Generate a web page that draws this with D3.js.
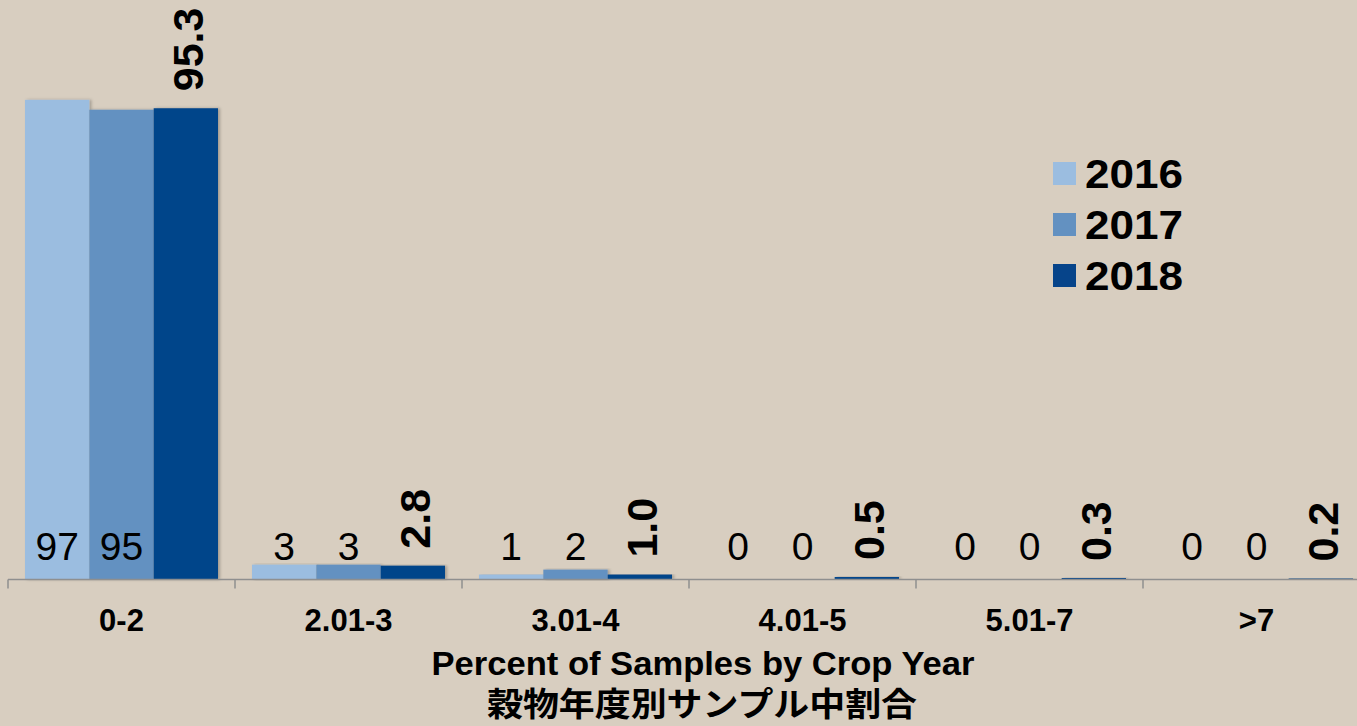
<!DOCTYPE html>
<html>
<head>
<meta charset="utf-8">
<script src="https://cdn.jsdelivr.net/npm/d3@7"></script>
<style>
  html, body { margin: 0; padding: 0; background: #d8cec0; }
  svg { display: block; }
</style>
</head>
<body>
<svg id="chart" width="1357" height="726"></svg>
<script>
// Moisture ranges (percent) and share of samples per crop year
const categories = ["0-2", "2.01-3", "3.01-4", "4.01-5", "5.01-7", ">7"];
const years = ["2016", "2017", "2018"];
const values2016 = [97, 3, 1, 0, 0, 0];
const values2017 = [95, 3, 2, 0, 0, 0];
const values2018 = [95.3, 2.8, 1.0, 0.5, 0.3, 0.2];
const seriesValues = [values2016, values2017, values2018];
const colors = ["#9bbde0", "#6391c1", "#06448a"];
const axisTitle = "Percent of Samples by Crop Year";
const axisTitleJa = "穀物年度別サンプル中割合";

const W = 1357, H = 726;
const svg = d3.select("#chart");
svg.append("rect").attr("width", W).attr("height", H).attr("fill", "#d8cec0");

const defs = svg.append("defs");
const sh = defs.append("filter").attr("id", "shadow")
  .attr("x", "-10%").attr("y", "-10%").attr("width", "130%").attr("height", "120%");
sh.append("feDropShadow").attr("dx", 2).attr("dy", 0).attr("stdDeviation", 1.5)
  .attr("flood-color", "#000").attr("flood-opacity", 0.25);

const baseY = 579.5;
const x0 = d3.scaleBand().domain(categories).range([8, 8 + 227 * 6]).padding(0);
const x1 = d3.scaleBand().domain(years).range([17, 210]).padding(0);
const y = d3.scaleLinear().domain([0, 100]).range([baseY, 85]);

const data = categories.map((c, i) => ({
  cat: c,
  vals: years.map((yr, j) => ({ year: yr, idx: j, v: seriesValues[j][i] }))
}));

const groups = svg.append("g").selectAll("g").data(data).join("g")
  .attr("transform", d => `translate(${x0(d.cat)},0)`);

// bars
groups.selectAll("rect").data(d => d.vals).join("rect")
  .attr("x", d => x1(d.year))
  .attr("width", x1.bandwidth())
  .attr("y", d => y(d.v))
  .attr("height", d => baseY - y(d.v))
  .attr("fill", d => colors[d.idx])
  .attr("filter", "url(#shadow)");

// axis line and category ticks
const axis = d3.axisBottom(x0).tickSize(0).tickFormat("");
const axisG = svg.append("g").attr("transform", `translate(0,${baseY})`).call(axis);
axisG.select(".domain").attr("stroke", "#8f8f8f").attr("stroke-width", 1.5)
  .attr("d", `M8,0H${W}`);
const tickPos = categories.map(c => x0(c));
svg.append("g").selectAll("line").data(tickPos).join("line")
  .attr("x1", d => d).attr("x2", d => d)
  .attr("y1", baseY).attr("y2", baseY + 9)
  .attr("stroke", "#8f8f8f").attr("stroke-width", 1.5);

// category labels
svg.append("g").selectAll("text").data(categories).join("text")
  .attr("x", d => x0(d) + x0.bandwidth() / 2)
  .attr("y", 631)
  .attr("text-anchor", "middle")
  .attr("font-family", "Liberation Sans, Arial, sans-serif")
  .attr("font-weight", "bold")
  .attr("font-size", 31)
  .attr("fill", "#000")
  .text(d => d);

// value labels: 2016 & 2017 upright, 2018 rotated and bold
groups.selectAll("text.v").data(d => d.vals.filter(v => v.idx < 2)).join("text")
  .attr("class", "v")
  .attr("x", d => x1(d.year) + x1.bandwidth() / 2)
  .attr("y", 560)
  .attr("text-anchor", "middle")
  .attr("font-family", "Liberation Sans, Arial, sans-serif")
  .attr("font-size", 39)
  .attr("fill", "#000")
  .text(d => d3.format(".0f")(d.v));

groups.selectAll("text.r").data(d => d.vals.filter(v => v.idx === 2)).join("text")
  .attr("class", "r")
  .attr("transform", d => `translate(${x1(d.year) + x1.bandwidth() / 2 + 2},${y(d.v) - 17}) rotate(-90)`)
  .attr("text-anchor", "start")
  .attr("dominant-baseline", "central")
  .attr("font-family", "Liberation Sans, Arial, sans-serif")
  .attr("font-weight", "bold")
  .attr("font-size", 43)
  .attr("fill", "#000")
  .text(d => d3.format(".1f")(d.v));

// legend
const legend = svg.append("g").selectAll("g").data(years).join("g")
  .attr("transform", (d, i) => `translate(1053,${173.5 + i * 51})`);
legend.append("rect")
  .attr("x", 0).attr("y", -11.5).attr("width", 23).attr("height", 23)
  .attr("fill", (d, i) => colors[i]);
legend.append("text")
  .attr("x", 32).attr("y", 14.5)
  .attr("font-family", "Liberation Sans, Arial, sans-serif")
  .attr("font-weight", "bold")
  .attr("font-size", 40)
  .attr("textLength", 98)
  .attr("lengthAdjust", "spacingAndGlyphs")
  .attr("fill", "#000")
  .text(d => d);

// axis title (two lines)
svg.append("text")
  .attr("x", 703).attr("y", 675)
  .attr("text-anchor", "middle")
  .attr("font-family", "Liberation Sans, Arial, sans-serif")
  .attr("font-weight", "bold")
  .attr("font-size", 33)
  .attr("textLength", 543)
  .attr("lengthAdjust", "spacingAndGlyphs")
  .attr("fill", "#000")
  .text(axisTitle);
svg.append("text")
  .attr("x", 702).attr("y", 716)
  .attr("text-anchor", "middle")
  .attr("font-family", "Noto Sans CJK JP, sans-serif")
  .attr("font-weight", "bold")
  .attr("font-size", 33)
  .attr("textLength", 430)
  .attr("lengthAdjust", "spacingAndGlyphs")
  .attr("fill", "#000")
  .text(axisTitleJa);
</script>
</body>
</html>
